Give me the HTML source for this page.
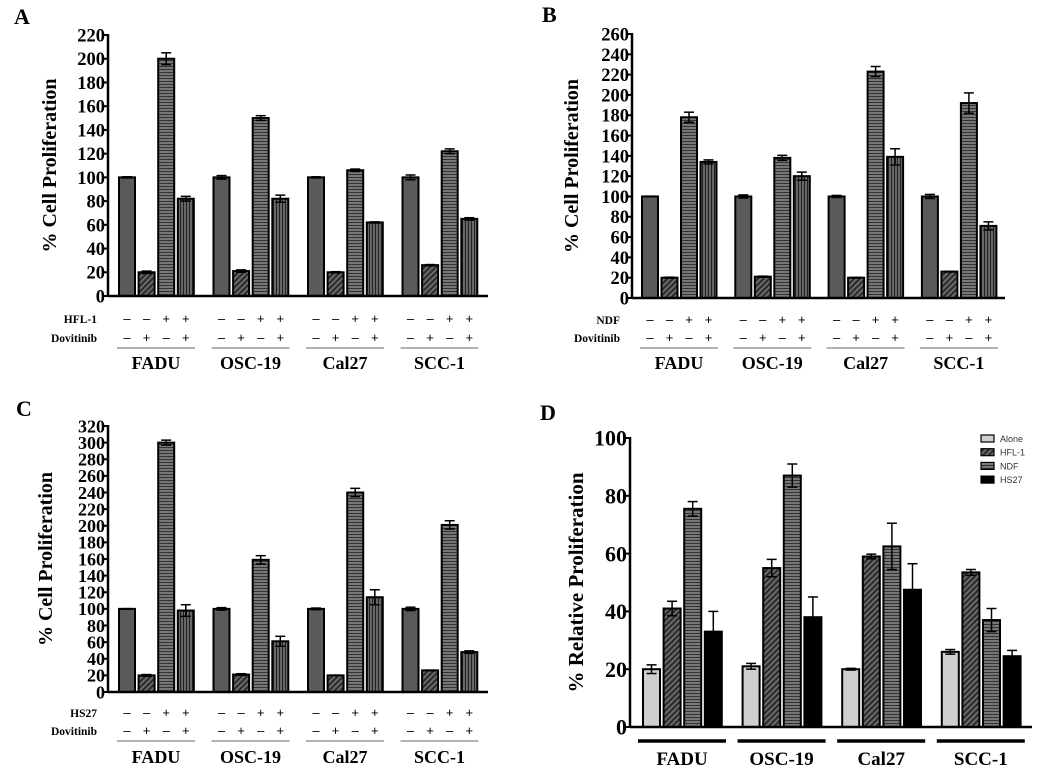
<!DOCTYPE html>
<html><head><meta charset="utf-8"><style>
body{margin:0;background:#fff;}
svg{display:block;font-family:"Liberation Serif",serif;font-weight:bold;}
</style></head><body>
<svg id="fig" width="1050" height="768" viewBox="0 0 1050 768" xmlns="http://www.w3.org/2000/svg">
<defs>
<pattern id="pDiag" width="4" height="4" patternUnits="userSpaceOnUse" patternTransform="rotate(45)"><rect width="4" height="4" fill="#6a6a6a"/><rect width="2" height="4" fill="#2a2a2a"/></pattern>
<pattern id="pH" width="3" height="3" patternUnits="userSpaceOnUse"><rect width="3" height="3" fill="#777"/><rect width="3" height="1" fill="#333"/></pattern>
<pattern id="pV" width="3" height="3" patternUnits="userSpaceOnUse"><rect width="3" height="3" fill="#666"/><rect width="1" height="3" fill="#222"/></pattern>
</defs>
</svg>
<script>
const groups = ["FADU","OSC-19","Cal27","SCC-1"];
const valuesA = [[100,20,200,82],[100,21,150,82],[100,20,106,62],[100,26,122,65]];
const errsA = [[0.5,1,5,2],[1.5,1,2,3],[0.5,0.5,1,0.5],[2,0.5,2,1]];
const valuesB = [[100,20,178,134],[100,21,138,120],[100,20,223,139],[100,26,192,71]];
const errsB = [[0.3,0.5,5,2],[1.5,0.5,2.5,4],[1,0.3,5,8],[2,0.3,10,4]];
const valuesC = [[100,20,300,98],[100,21,159,61],[100,20,240,114],[100,26,201,48]];
const errsC = [[0.3,1,3,7],[1.5,1,5,6],[1,0.3,5,9],[2,0.3,5,1.5]];
const ticksA = [0,20,40,60,80,100,120,140,160,180,200,220];
const ticksB = [0,20,40,60,80,100,120,140,160,180,200,220,240,260];
const ticksC = [0,20,40,60,80,100,120,140,160,180,200,220,240,260,280,300,320];
const fibSigns = ["–","–","+","+"];
const dovSigns = ["–","+","–","+"];
const seriesD = ["Alone","HFL-1","NDF","HS27"];
const aloneD = [20,21,20,26];
const hflD = [41,55,59,53.5];
const ndfD = [75.5,87,62.5,37];
const hs27D = [33,38,47.5,24.5];
const aloneErr = [1.5,1,0.3,0.8];
const hflErr = [2.5,3,0.8,1];
const ndfErr = [2.5,4,8,4];
const hs27Err = [7,7,9,2];
const ticksD = [0,20,40,60,80,100];

const svg = document.getElementById('fig');
const NS = "http://www.w3.org/2000/svg";
function mk(tag, attrs, parent, text){
  const e = document.createElementNS(NS, tag);
  for (const k in attrs) e.setAttribute(k, attrs[k]);
  if (text !== undefined) e.textContent = text;
  (parent||svg).appendChild(e);
  return e;
}
const fills4 = ["#5a5a5a","url(#pDiag)","url(#pH)","url(#pV)"];

function panel(o){
  const g = mk('g',{});
  
  
  const y = v => o.y0 - (v/o.max)*(o.y0-o.yTop);
  const pl = mk('text',{x:o.lx,y:o.ly,'font-size':22},g,o.id);
  
  
  o.ticks.forEach(t=>{
    mk('line',{x1:o.ax-5,x2:o.ax,y1:y(t),y2:y(t),stroke:'#000','stroke-width':2},g);
    const tl = mk('text',{x:o.ax-3,y:y(t)+o.tfs*0.35,'font-size':o.tfs,'text-anchor':'end'},g,String(t));
    
    
  });
  const yt = mk('text',{x:0,y:0,'font-size':o.yfs,'text-anchor':'middle',transform:`translate(${o.yx},${(o.yTop+o.y0)/2}) rotate(-90)`},g,o.ytitle);
  
  
  o.vals.forEach((grp,gi)=>{
    grp.forEach((v,bi)=>{
      const x = o.bx0 + gi*o.gs + bi*o.bs;
      const r = mk('rect',{x:x,y:y(v),width:o.bw,height:o.y0-y(v),fill:o.fills[bi],stroke:'#000','stroke-width':2},g);
      
      
      const e = o.errs[gi][bi], cx = x+o.bw/2;
      if (e>0){
        mk('line',{x1:cx,x2:cx,y1:y(v+e),y2:y(v-e),stroke:'#000','stroke-width':1.5},g);
        mk('line',{x1:cx-5,x2:cx+5,y1:y(v+e),y2:y(v+e),stroke:'#000','stroke-width':1.5},g);
        mk('line',{x1:cx-5,x2:cx+5,y1:y(v-e),y2:y(v-e),stroke:'#000','stroke-width':1.5},g);
      }
      if (o.rows){
        mk('text',{x:cx,y:o.r1+4,'font-size':13,'text-anchor':'middle','font-family':'Liberation Sans, sans-serif','font-weight':'normal'},g,fibSigns[bi]);
        mk('text',{x:cx,y:o.r2+4,'font-size':13,'text-anchor':'middle','font-family':'Liberation Sans, sans-serif','font-weight':'normal'},g,dovSigns[bi]);
      }
    });
    const gx = o.bx0 + gi*o.gs;
    const gl = mk('line',{x1:gx+o.ul0,x2:gx+o.ul1,y1:o.uy,y2:o.uy,stroke:o.ulc,'stroke-width':o.ulw},g);
    
    
    const lt = mk('text',{x:gx+(o.ul0+o.ul1)/2,y:o.gy,'font-size':o.gfs,'text-anchor':'middle'},g,groups[gi]);
    
    
  });
  mk('line',{x1:o.ax,x2:o.ax,y1:o.yTop-1,y2:o.y0+1,stroke:'#000','stroke-width':2.5},g);
  mk('line',{x1:o.ax,x2:o.xEnd,y1:o.y0,y2:o.y0,stroke:'#000','stroke-width':2.5},g);
  if (o.rows){
    const a = mk('text',{x:o.rlx,y:o.r1+4,'font-size':11.5,'text-anchor':'end'},g,o.rowName);
    
    
    const b = mk('text',{x:o.rlx,y:o.r2+4,'font-size':11.5,'text-anchor':'end'},g,'Dovitinib');
    
    
  }
  return g;
}
const common = {fills:fills4,bw:16,bs:19.6,gs:94.5,rows:true,ul0:-2,ul1:76,ulc:'#666',ulw:1,gfs:18,tfs:18.5,yfs:20};
panel(Object.assign({},common,{id:'A',lx:14,ly:24,ax:108,yTop:35,y0:296,max:220,ticks:ticksA,vals:valuesA,errs:errsA,bx0:119,xEnd:488,yx:56,ytitle:'% Cell Proliferation',r1:319,r2:338,uy:348,gy:369,rlx:97,rowName:'HFL-1'}));
panel(Object.assign({},common,{id:'B',lx:542,ly:22,ax:632,yTop:34,y0:298,max:260,ticks:ticksB,vals:valuesB,errs:errsB,bx0:642,bs:19.5,gs:93.3,xEnd:1005,yx:578,ytitle:'% Cell Proliferation',r1:320,r2:338,uy:348,gy:369,rlx:620,rowName:'NDF'}));
panel(Object.assign({},common,{id:'C',lx:16,ly:416,ax:108,yTop:426,y0:692,max:320,ticks:ticksC,vals:valuesC,errs:errsC,bx0:119,xEnd:488,yx:52,ytitle:'% Cell Proliferation',r1:713,r2:731,uy:741,gy:763,rlx:97,rowName:'HS27',tfs:18}));
const valsD = groups.map((_,i)=>[aloneD[i],hflD[i],ndfD[i],hs27D[i]]);
const errsD = groups.map((_,i)=>[aloneErr[i],hflErr[i],ndfErr[i],hs27Err[i]]);
const fillsD = ["#cfcfcf","url(#pDiag)","url(#pH)","#000"];
panel({id:'D',lx:540,ly:420,ax:630,yTop:438,y0:727,max:100,ticks:ticksD,vals:valsD,errs:errsD,fills:fillsD,bx0:643,bw:17,bs:20.6,gs:99.6,xEnd:1032,yx:583,ytitle:'% Relative Proliferation',yfs:21,tfs:22,rows:false,ul0:-5,ul1:83,ulc:'#000',ulw:3.5,uy:741,gy:765,gfs:19});
const lg = mk('g',{});


seriesD.forEach((s,i)=>{
  const yy = 435 + i*13.7;
  mk('rect',{x:981,y:yy,width:13,height:7,fill:fillsD[i],stroke:'#000','stroke-width':1.2},lg);
  const t = mk('text',{x:1000,y:yy+7,'font-size':9,'font-family':'Liberation Sans, sans-serif','font-weight':'normal',fill:'#333'},lg,s);
  
  
});
</script>
</body></html>
